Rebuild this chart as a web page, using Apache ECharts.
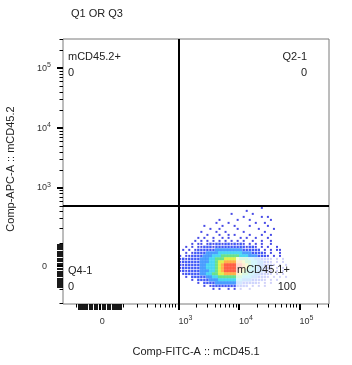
<!DOCTYPE html>
<html>
<head>
<meta charset="utf-8">
<script src="https://cdn.jsdelivr.net/npm/echarts@6/dist/echarts.min.js"></script>
<style>
  html, body { margin: 0; padding: 0; background: #fff; }
  #chart { width: 352px; height: 365px; }
</style>
</head>
<body>
<div id="chart"></div>
<script>
// gate positions, raw fluorescence
var xGate = 1000;
var yGate = 500;

// labelled decades and their exponents
var majorTicks = [0, 1000, 10000, 100000];
var majorExp = ['', '3', '4', '5'];

// quadrant names / percentages (Q1, Q2, Q4, Q3)
var quadNames = ['mCD45.2+', 'Q2-1', 'Q4-1', 'mCD45.1+'];
var quadPcts = ['0', '0', '0', '100'];

// population density, in display (biex decade) units.
// one char per cell, '.' empty, 1..8 = low..high density; rows go down
var densityX0 = 1.33;
var densityY0 = 0.97;
var densityStep = 0.05;
var densityRows = [
  '...........................1',
  '......................1',
  '.................1......1',
  '.....................1.....1.1',
  '.............1.....1...1......1',
  '............1...1........1..1',
  '........1.....1...1....1.....1',
  '..........1..1.....1......1....1',
  '.......1....1..1.....1......1',
  '.........1...1..1.1....1...1..1',
  '......1.1..1..1.1...1.1..1...1',
  '.....1.1.1.1.1.1.1.1.1..1..1..1',
  '....1.11.1212212212121.1.1.1..1',
  '..1.1.11222122222222221221.1.1..1',
  '.1.1.1222222333333333222222.1.1.11',
  '..1.1222233334444444433322221.1..1',
  '1.1122223334445555554443332221.1.1',
  '1212222333445556666655544332221.1.1',
  '1222222333445667777776554433221.1.1',
  '21222223344456788888876544332221.1.1',
  '1222222334445678888887654433222.1.1',
  '1212222333445678888876544433221.1.1',
  '.122222334455667777765544332221.1.1',
  '..1.22222334455555555444332221.1.1.1',
  '....1.22223334444444433322221.1.1',
  '......1.2222333333333222221.1.1',
  '........1.1222222222222.1.1.1',
  '...........1.1..1.1.1..1'
];

// biexponential-like display transform
var W = 100;
function biex(v) { return Math.asinh(v / W) / Math.LN10; }

var xMin = -0.607, xMax = 3.79;
var yMin = -0.632, yMax = 3.785;

function tickSets(lo, hi) {
  var near = [], minor = [];
  [10, 100, 1000, 10000, 100000].forEach(function (d) {
    for (var k = 1; k <= 9; k++) {
      [k * d, -k * d].forEach(function (v) {
        var t = biex(v);
        if (t <= lo || t >= hi || majorTicks.indexOf(v) >= 0) return;
        (Math.abs(v) < 100 ? near : minor).push(t);
      });
    }
  });
  return { near: near, minor: minor, major: majorTicks.map(biex) };
}
var xt = tickSets(xMin, xMax);
var yt = tickSets(yMin, yMax);

function tickLabel(t) {
  for (var i = 0; i < majorTicks.length; i++) {
    if (Math.abs(biex(majorTicks[i]) - t) < 1e-6) {
      return i === 0 ? '{b|0}{s|  }' : '{b|10}{s|' + majorExp[i] + '}';
    }
  }
  return '';
}

var font = 'Arial, "Liberation Sans", sans-serif';
var rich = {
  b: { fontSize: 9, fontFamily: font, color: '#333' },
  s: { fontSize: 7, fontFamily: font, color: '#333', padding: [0, 0, 6, 0] }
};

function axes(dir, ticks, lo, hi) {
  var base = {
    type: 'value', min: lo, max: hi, gridIndex: 0,
    position: dir === 'x' ? 'bottom' : 'left',
    splitLine: { show: false }, axisLine: { show: false, onZero: false }
  };
  var major = Object.assign({}, base, {
    axisTick: { show: true, customValues: ticks.major, length: 6, lineStyle: { color: '#000', width: 2 } },
    axisLabel: {
      show: true, customValues: ticks.major, formatter: tickLabel, rich: rich,
      margin: dir === 'x' ? 11 : 12, align: dir === 'x' ? 'left' : 'right'
    }
  });
  var minor = Object.assign({}, base, {
    axisTick: { show: true, customValues: ticks.minor, length: 3.5, lineStyle: { color: '#000', width: 1 } },
    axisLabel: { show: false }
  });
  var near = Object.assign({}, base, {
    axisTick: { show: true, customValues: ticks.near, length: 6, lineStyle: { color: '#000', width: 1.8 } },
    axisLabel: { show: false }
  });
  return [major, minor, near];
}

var cells = [];
densityRows.forEach(function (row, j) {
  for (var i = 0; i < row.length; i++) {
    var c = row.charAt(i);
    if (c === '.') continue;
    cells.push([densityX0 + i * densityStep, densityY0 - j * densityStep, +c]);
  }
});

var levelColors = [null, '#1a1ee0', '#1230f5', '#1f86ff', '#1fcdf0', '#45db72', '#d6ee25', '#ff9f1e', '#ff3a1a'];
var levelSizes = [0, 2, 2.4, 3.2, 3.2, 3.2, 3.2, 3.2, 3.2];

var chart = echarts.init(document.getElementById('chart'), null, { renderer: 'canvas' });

function txt(text, x, y, align, extra) {
  return Object.assign({
    type: 'text', x: x, y: y, z: 100,
    style: { text: text, fill: '#222', font: '11px ' + font, align: align || 'left', verticalAlign: 'middle' }
  }, extra || {});
}

chart.setOption({
  animation: false,
  backgroundColor: '#fff',
  grid: {
    left: 63, right: 23, top: 39, bottom: 61,
    show: true, borderColor: '#7a7a7a', borderWidth: 1,
    outerBoundsMode: 'none', containLabel: false
  },
  xAxis: axes('x', xt, xMin, xMax),
  yAxis: axes('y', yt, yMin, yMax),
  series: [{
    type: 'scatter',
    xAxisIndex: 0, yAxisIndex: 0,
    symbol: 'rect',
    data: cells,
    symbolSize: function (d) { return levelSizes[d[2]]; },
    itemStyle: { color: function (p) { return levelColors[p.data[2]]; } },
    silent: true,
    markLine: {
      silent: true, symbol: ['none', 'none'], label: { show: false },
      lineStyle: { color: '#000', width: 2, type: 'solid' },
      data: [{ xAxis: biex(xGate) }, { yAxis: biex(yGate) }]
    }
  }],
  graphic: [
    txt('Q1 OR Q3', 71, 14),
    { type: 'rect', z: 90, shape: { x: 236, y: 257, width: 62, height: 37 }, style: { fill: 'rgba(255,255,255,0.75)' } },
    txt(quadNames[0], 68, 57), txt(quadPcts[0], 68, 73),
    txt(quadNames[1], 307, 57, 'right'), txt(quadPcts[1], 307, 73, 'right'),
    txt(quadNames[2], 68, 271), txt(quadPcts[2], 68, 287),
    txt(quadNames[3], 237, 270), txt(quadPcts[3], 296, 287, 'right'),
    txt('Comp-FITC-A :: mCD45.1', 196, 352, 'center'),
    txt('Comp-APC-A :: mCD45.2', 11, 169, 'center', { rotation: Math.PI / 2 })
  ]
});
</script>
</body>
</html>
